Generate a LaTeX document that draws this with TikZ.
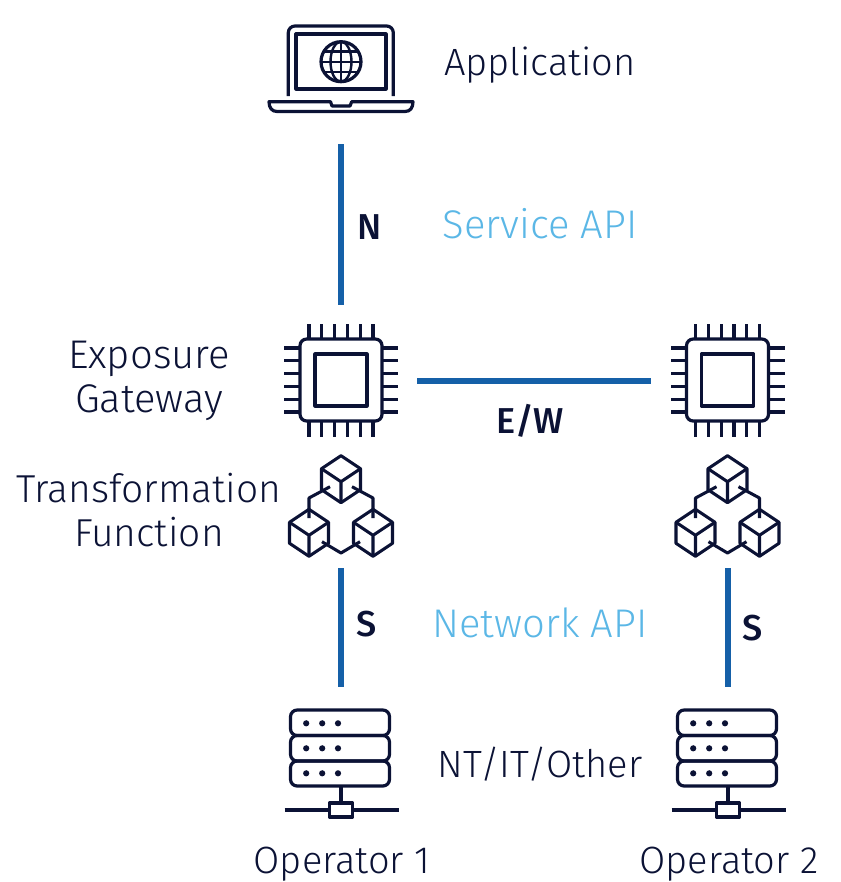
\documentclass[tikz,border=0pt]{standalone}
\usepackage{fontspec}
\setmainfont{Fira Sans Light}[BoldFont={Fira Sans Medium}]
\definecolor{ink}{HTML}{0B1235}
\definecolor{apiblue}{HTML}{5BB7E6}
\definecolor{linkblue}{HTML}{1560A8}
\tikzset{
  icon/.style={draw=ink,line width=2.4pt,line join=round},
  thin icon/.style={draw=ink,line width=2.3pt,line join=round},
  link/.style={draw=linkblue,line width=4.4pt},
  label/.style={text=ink,font=\fontsize{28.5}{34}\selectfont,align=center,inner sep=0pt},
  biglabel/.style={text=ink,font=\fontsize{30}{33.5}\selectfont,align=center,inner sep=0pt},
  tflabel/.style={text=ink,font=\fontsize{29.2}{33.5}\selectfont,align=center,inner sep=0pt},
  apilabel/.style={text=apiblue,font=\fontsize{30}{30}\selectfont,inner sep=0pt},
  iflabel/.style={text=ink,font=\fontsize{27}{27}\bfseries\selectfont,inner sep=0pt},
  chip/.pic={
    \draw[icon,rounded corners=5pt] (-41,-41) rectangle (41,41);
    \draw[icon] (-26,-26) rectangle (26,26);
    \foreach \p in {-32,-19.2,-6.4,6.4,19.2,32}{
      \draw[icon] (\p,-41) -- (\p,-56);
      \draw[icon] (\p,41) -- (\p,57);
      \draw[icon] (-41,\p) -- (-57,\p);
      \draw[icon] (41,\p) -- (57,\p);
    }
  },
  cube/.pic={
    \draw[thin icon] (0,-26) -- (19.5,-13) -- (19.5,8) -- (0,21) -- (-19.5,8) -- (-19.5,-13) -- cycle;
    \draw[thin icon] (-19.5,-13) -- (0,0) -- (19.5,-13) (0,0) -- (0,21);
  },
  cubes/.pic={
    \path (0,101.7) pic {cube};
    \path (-32,155.3) pic {cube};
    \path (32,155.3) pic {cube};
    \draw[thin icon] (-32,138) -- (-32,118) -- (-11,106.7);
    \draw[thin icon] (32,138) -- (32,118) -- (11,106.7);
    \draw[thin icon] (-19,161.7) -- (0,173) -- (19,161.7);
  },
  server/.pic={
    \draw[icon,rounded corners=5pt] (-50,-38) rectangle (49,-12.5);
    \draw[icon,rounded corners=5pt] (-50,-12.5) rectangle (49,13);
    \draw[icon,rounded corners=5pt] (-50,13) rectangle (49,38);
    \foreach \r in {-24.7,0.3,25.3}{
      \foreach \c in {-34.3,-18.3,-2.5}{
        \fill[ink] (\c,\r) circle (3.1);
      }
    }
    \draw[icon] (0.5,38) -- (0.5,55);
    \draw[icon] (-56,62) -- (-11,62) (12,62) -- (58,62);
    \draw[icon] (-11,55) rectangle (12,69);
  }
}
\begin{document}
\begin{tikzpicture}[x=0.75pt,y=-0.75pt]
\useasboundingbox (0,0) rectangle (840,882);
% laptop
\draw[icon,rounded corners=5pt] (288.3,96) -- (288.3,26) -- (393.3,26) -- (393.3,96);
\draw[icon] (296,34) rectangle (386,89);
\draw[icon] (341,61.7) circle (20);
\draw[thin icon,line width=1.8pt] (341,61.7) ellipse (10.5 and 20);
\draw[thin icon,line width=1.8pt] (341,41.7) -- (341,81.7) (321,61.7) -- (361,61.7) (325,51.5) -- (357,51.5) (325,72) -- (357,72);
\draw[icon] (269,101.7) -- (330.5,101.7) -- (332,106) -- (350,106) -- (351.7,101.7) -- (413,101.7) .. controls (413,108) and (410,111.5) .. (405,111.5) -- (277,111.5) .. controls (272,111.5) and (269,108) .. cycle;
% icons
\path (341,380) pic {chip};
\path (727.5,380) pic {chip};
\path (341,380) pic {cubes};
\path (727.5,380) pic {cubes};
\path (340.5,748) pic {server};
\path (727.5,748) pic {server};
% link ends
\coordinate (nTop) at (341,144);
\coordinate (nBot) at (341,305);
\coordinate (ewL) at (417,381);
\coordinate (ewR) at (651,381);
\coordinate (s1Top) at (341,568);
\coordinate (s1Bot) at (341,687);
\coordinate (s2Top) at (728,568);
\coordinate (s2Bot) at (728,687);
\draw[link] (nTop) -- (nBot);
\draw[link] (ewL) -- (ewR);
\draw[link] (s1Top) -- (s1Bot);
\draw[link] (s2Top) -- (s2Bot);
% labels
\node[label] (app) at (540,65) {Application};
\node[apilabel] (svc) at (540,224) {Service API};
\node[iflabel] (n) at (370,227) {N};
\node[biglabel] (exp) at (149,381) {Exposure\\Gateway};
\node[iflabel] (ew) at (530,421) {E/W};
\node[tflabel] (tf) at (149,510) {Transformation\\Function};
\node[apilabel] (net) at (540,623) {Network API};
\node[iflabel] (s1) at (367,624) {S};
\node[iflabel] (s2) at (753,628) {S};
\node[label] (nt) at (540,764) {NT/IT/Other};
\node[label] (op1) at (342,864) {Operator 1};
\node[label] (op2) at (729,864) {Operator 2};
\end{tikzpicture}
\end{document}
